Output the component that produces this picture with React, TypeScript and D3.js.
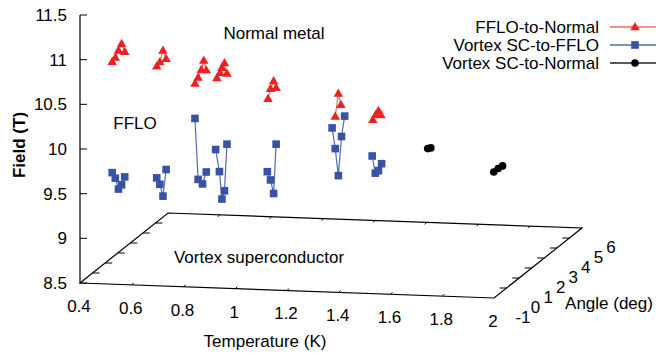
import React from "react";
import * as d3 from "d3";

// tick values of the three axes
const tempTicks = [0.4, 0.6, 0.8, 1, 1.2, 1.4, 1.6, 1.8, 2];
const angleTicks = [-1, 0, 1, 2, 3, 4, 5, 6];
const fieldTicks = [8.5, 9, 9.5, 10, 10.5, 11, 11.5];

// [temperature (K), angle (deg), field (T)], one group per temperature
const ffloToNormal = [
    [[0.5, -0.5, 10.93], [0.5, -0.25, 10.95], [0.5, 0, 11.0], [0.5, 0.25, 11.05], [0.5, 0.5, 10.93]],
    [[0.66, -0.25, 10.87], [0.66, 0, 10.89], [0.66, 0.25, 10.99], [0.66, 0.5, 10.87]],
    [[0.82, -0.5, 10.72], [0.82, -0.25, 10.76], [0.82, 0, 10.82], [0.82, 0.2, 10.9], [0.82, 0.4, 10.77]],
    [[0.9, -0.4, 10.78], [0.9, -0.15, 10.81], [0.9, 0, 10.85], [0.9, 0.2, 10.88], [0.9, 0.4, 10.74]],
    [[1.09, -0.25, 10.55], [1.09, -0.05, 10.64], [1.09, 0.2, 10.7], [1.09, 0.4, 10.6]],
    [[1.35, -0.25, 10.38], [1.35, 0, 10.61], [1.35, 0.2, 10.46]],
    [[1.5, -0.35, 10.37], [1.5, -0.1, 10.4], [1.5, 0.1, 10.42], [1.5, 0.3, 10.35]],
];

const vortexToFflo = [
    [[0.5, -0.5, 9.69], [0.5, -0.25, 9.6], [0.5, 0, 9.45], [0.5, 0.25, 9.47], [0.5, 0.5, 9.53]],
    [[0.66, -0.25, 9.62], [0.66, 0, 9.52], [0.66, 0.25, 9.36], [0.66, 0.5, 9.63]],
    [[0.82, -0.5, 10.33], [0.82, -0.25, 9.62], [0.82, 0.1, 9.53], [0.82, 0.4, 9.63]],
    [[0.9, -0.5, 9.99], [0.9, -0.2, 9.71], [0.9, 0, 9.38], [0.9, 0.2, 9.45], [0.9, 0.4, 9.95]],
    [[1.09, -0.3, 9.74], [1.09, -0.05, 9.62], [1.09, 0.2, 9.44], [1.09, 0.4, 9.97]],
    [[1.35, -0.5, 10.28], [1.35, -0.25, 10.02], [1.35, 0, 9.69], [1.35, 0.25, 10.1], [1.35, 0.5, 10.3]],
    [[1.5, -0.4, 9.97], [1.5, -0.15, 9.75], [1.5, 0.1, 9.75], [1.5, 0.35, 9.8]],
];

const vortexToNormal = [
    [[1.7, -0.1, 10.04], [1.7, 0.15, 10.02]],
    [[1.97, -0.4, 9.84], [1.97, -0.05, 9.84], [1.97, 0.3, 9.83]],
];

const legendLabels = ["FFLO-to-Normal", "Vortex SC-to-FFLO", "Vortex SC-to-Normal"];

const W = 656;
const H = 357;
const font = "'Liberation Sans', Arial, Helvetica, sans-serif";
const fs = 17;

// oblique projection of the gnuplot view
const ox = 80;
const oy = 283;
const tX = d3.scaleLinear().domain([0.4, 2]).range([0, 414]);
const tY = d3.scaleLinear().domain([0.4, 2]).range([0, 15]);
const aX = d3.scaleLinear().domain([-1, 6]).range([0, 88]);
const aY = d3.scaleLinear().domain([-1, 6]).range([0, -70]);
const zY = d3.scaleLinear().domain([8.5, 11.5]).range([0, -268]);

const proj = (t: number, a: number, z: number): [number, number] => [
    ox + tX(t) + aX(a),
    oy + tY(t) + aY(a) + zY(z),
];

const line = d3.line<number[]>()
    .x((d) => proj(d[0], d[1], d[2])[0])
    .y((d) => proj(d[0], d[1], d[2])[1]);

const triangle = (x: number, y: number, r = 5) =>
    `M${x},${y - r}L${x + r * 0.95},${y + r * 0.65}L${x - r * 0.95},${y + r * 0.65}Z`;

const series = [
    { data: ffloToNormal, line: "#f06a6a", mark: "#ee2020", kind: "tri" },
    { data: vortexToFflo, line: "#5468b6", mark: "#3a52a6", kind: "sq" },
    { data: vortexToNormal, line: "#222", mark: "#000", kind: "dot" },
];

const Marker: React.FC<any> = ({ kind, x, y, color }) => {
    if (kind === "tri") return <path d={triangle(x, y)} fill={color} />;
    if (kind === "sq") return <rect x={x - 3.8} y={y - 3.8} width={7.6} height={7.6} fill={color} />;
    return <circle cx={x} cy={y} r={3.8} fill={color} />;
};

export default function App() {
    const p00 = proj(0.4, -1, 8.5);
    const p10 = proj(2, -1, 8.5);
    const p11 = proj(2, 6, 8.5);
    const p01 = proj(0.4, 6, 8.5);
    const zTop = proj(0.4, -1, 11.5);

    return (
        <svg
            width={W}
            height={H}
            style={{ position: "absolute", left: 0, top: 0, background: "#fff" }}
            fontFamily={font}
            fontSize={fs}
        >
            {/* base plane */}
            <path
                d={`M${p00}L${p10}L${p11}L${p01}Z`}
                fill="none"
                stroke="#000"
                strokeWidth={1.2}
            />
            {/* z axis */}
            <line x1={p00[0]} y1={p00[1]} x2={zTop[0]} y2={zTop[1]} stroke="#000" strokeWidth={1.2} />
            {fieldTicks.map((z) => {
                const [x, y] = proj(0.4, -1, z);
                return (
                    <g key={z}>
                        <line x1={x} y1={y} x2={x + 7} y2={y} stroke="#000" />
                        <text x={x - 13} y={y} dy="0.35em" textAnchor="end">
                            {z}
                        </text>
                    </g>
                );
            })}
            {/* temperature ticks */}
            {tempTicks.map((t) => {
                const [x, y] = proj(t, -1, 8.5);
                const [bx, by] = proj(t, 6, 8.5);
                return (
                    <g key={t}>
                        <line x1={x} y1={y} x2={x + 2} y2={y - 2} stroke="#000" />
                        <line x1={bx} y1={by} x2={bx - 2} y2={by + 2} stroke="#000" />
                        <text x={x - 1} y={y + 23} dy="0.35em" textAnchor="middle">
                            {t}
                        </text>
                    </g>
                );
            })}
            {/* angle ticks */}
            {angleTicks.map((a) => {
                const [x, y] = proj(2, a, 8.5);
                const [lx, ly] = proj(0.4, a, 8.5);
                return (
                    <g key={a}>
                        {a > -1 && a < 6 && (
                            <>
                                <line x1={x} y1={y} x2={x - 7} y2={y} stroke="#000" />
                                <line x1={lx} y1={ly} x2={lx + 7} y2={ly} stroke="#000" />
                            </>
                        )}
                        <text x={x + 29} y={y + 19} dy="0.35em" textAnchor="middle">
                            {a}
                        </text>
                    </g>
                );
            })}

            {/* data */}
            {series.map((s, si) => (
                <g key={si}>
                    {s.data.map((grp, gi) => (
                        <path
                            key={gi}
                            d={line(grp) || ""}
                            fill="none"
                            stroke={s.line}
                            strokeWidth={s.kind === "dot" ? 3 : 1.2}
                        />
                    ))}
                    {s.data.flat().map((d, i) => {
                        const [x, y] = proj(d[0], d[1], d[2]);
                        return <Marker key={i} kind={s.kind} x={x} y={y} color={s.mark} />;
                    })}
                </g>
            ))}

            {/* region labels */}
            <text x={274} y={33} dy="0.35em" textAnchor="middle">Normal metal</text>
            <text x={135} y={123} dy="0.35em" textAnchor="middle">FFLO</text>
            <text x={259} y={257} dy="0.35em" textAnchor="middle">Vortex superconductor</text>

            {/* axis titles */}
            <text x={265} y={341} dy="0.35em" textAnchor="middle">Temperature (K)</text>
            <text x={609} y={303} dy="0.35em" textAnchor="middle">Angle (deg)</text>
            <text
                transform="translate(19,145) rotate(-90)"
                dy="0.35em"
                textAnchor="middle"
                fontWeight="bold"
            >
                Field (T)
            </text>

            {/* legend */}
            {legendLabels.map((lab, i) => {
                const y = 27 + i * 18;
                const s = series[i];
                return (
                    <g key={lab}>
                        <text x={599} y={y} dy="0.35em" textAnchor="end">
                            {lab}
                        </text>
                        <line x1={610} y1={y} x2={656} y2={y} stroke={s.line} strokeWidth={1.5} />
                        <Marker kind={s.kind} x={635} y={y} color={s.mark} />
                    </g>
                );
            })}
        </svg>
    );
}
